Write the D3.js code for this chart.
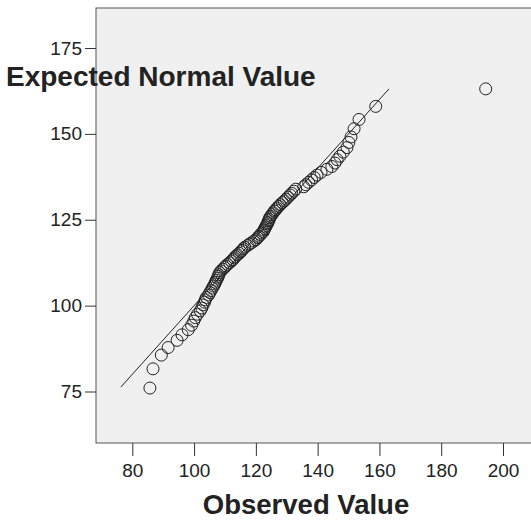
<!DOCTYPE html>
<html>
<head>
<meta charset="utf-8">
<script src="https://cdn.jsdelivr.net/npm/d3@7"></script>
<style>
  body { margin: 0; background: #fff; }
  svg { display: block; font-family: 'Liberation Sans', Arial, sans-serif; }
</style>
</head>
<body>
<div id="chart"></div>
<script>
// observed values (sorted) and their expected normal values
var observed = [85.7, 86.7, 89.4, 91.6, 94.5, 96.1, 98.1, 99.2, 99.9, 100.4,
  101.1, 102.0, 102.5, 102.9, 103.4, 103.6, 104.0, 104.7, 105.1, 105.5,
  105.9, 106.3, 106.7, 106.9, 107.2, 107.6, 107.8, 108.0, 108.3, 108.7,
  109.3, 109.8, 110.3, 110.8, 111.5, 112.1, 112.6, 113.0, 113.4, 114.0,
  114.6, 115.1, 115.5, 116.0, 116.4, 117.3, 117.9, 118.6, 119.4, 120.0,
  120.6, 121.0, 121.5, 121.9, 122.4, 122.6, 122.9, 123.1, 123.4, 123.7,
  123.9, 124.1, 124.3, 124.5, 124.8, 125.2, 125.6, 126.0, 126.4, 126.8,
  127.4, 127.9, 128.6, 129.2, 129.8, 130.4, 131.1, 131.6, 132.3, 132.9,
  135.5, 136.2, 137.1, 138.0, 138.9, 139.8, 141.1, 143.0, 144.6, 145.6,
  146.3, 147.2, 148.3, 149.5, 150.1, 150.8, 151.8, 153.4, 158.8, 194.4]
var expected = [76.0, 81.6, 85.6, 87.8, 89.9, 91.5, 93.0, 94.3, 95.5, 96.5,
  97.5, 98.5, 99.3, 100.2, 101.0, 101.7, 102.4, 103.1, 103.8, 104.4,
  105.1, 105.7, 106.3, 106.8, 107.4, 108.0, 108.5, 109.0, 109.6, 110.1,
  110.6, 111.1, 111.5, 112.0, 112.5, 113.0, 113.4, 113.9, 114.3, 114.8,
  115.2, 115.7, 116.1, 116.6, 117.0, 117.5, 117.9, 118.3, 118.8, 119.2,
  119.8, 120.2, 120.7, 121.1, 121.5, 122.0, 122.4, 122.9, 123.3, 123.8,
  124.2, 124.7, 125.1, 125.6, 126.0, 126.5, 127.0, 127.5, 127.9, 128.4,
  128.9, 129.4, 130.0, 130.5, 131.0, 131.6, 132.2, 132.7, 133.3, 133.9,
  134.6, 135.2, 135.9, 136.6, 137.3, 138.0, 138.8, 139.7, 140.5, 141.5,
  142.5, 143.5, 144.7, 146.0, 147.5, 149.1, 151.5, 154.2, 158.0, 163.1]
// reference line y = x over the expected range
var refLine = [76.3, 163.1]
var xTicks = [80, 100, 120, 140, 160, 180, 200]
var yTicks = [75, 100, 125, 150, 175]
var xTitle = 'Observed Value'
var yTitle = 'Expected Normal Value'

var W = 531
var H = 520
var plot = { left: 96, top: 8, right: 560, bottom: 443 }

var svg = d3.select('#chart')
  .append('svg')
  .attr('width', W)
  .attr('height', H)

var x = d3.scaleLinear().domain([80, 200]).range([132.3, 503])
var y = d3.scaleLinear().domain([75, 175]).range([391.5, 48])

// plot background
svg.append('rect')
  .attr('x', plot.left)
  .attr('y', plot.top)
  .attr('width', plot.right - plot.left)
  .attr('height', plot.bottom - plot.top)
  .style('fill', '#eff0ef')
  .style('stroke', '#555')
  .style('stroke-width', 1)

// axes
var xAxis = d3.axisBottom(x).tickValues(xTicks).tickSize(13).tickSizeOuter(0).tickPadding(8)
var yAxis = d3.axisLeft(y).tickValues(yTicks).tickSize(11).tickSizeOuter(0).tickPadding(3)

var gx = svg.append('g')
  .attr('transform', 'translate(0,' + plot.bottom + ')')
  .call(xAxis)
var gy = svg.append('g')
  .attr('transform', 'translate(' + plot.left + ',0)')
  .call(yAxis)

;[gx, gy].forEach(function (g) {
  g.select('.domain').remove()
  g.selectAll('line').style('stroke', '#333')
  g.selectAll('text')
    .style('font-size', '19px')
    .style('fill', '#222')
    .style('font-family', "'Liberation Sans', Arial, sans-serif")
})

// reference line
svg.append('line')
  .attr('x1', x(refLine[0]))
  .attr('y1', y(refLine[0]))
  .attr('x2', x(refLine[1]))
  .attr('y2', y(refLine[1]))
  .style('stroke', '#222')
  .style('stroke-width', 1)

// points
svg.selectAll('circle.pt')
  .data(observed)
  .enter()
  .append('circle')
  .attr('class', 'pt')
  .attr('cx', function (d) { return x(d) })
  .attr('cy', function (d, i) { return y(expected[i]) })
  .attr('r', 6)
  .style('fill', 'none')
  .style('stroke', '#222')
  .style('stroke-width', 1)

// titles
svg.append('text')
  .attr('x', 6)
  .attr('y', 86)
  .style('font-size', '28px')
  .style('font-weight', 'bold')
  .style('fill', '#222')
  .text(yTitle)

svg.append('text')
  .attr('x', 306)
  .attr('y', 514)
  .attr('text-anchor', 'middle')
  .style('font-size', '27.5px')
  .style('font-weight', 'bold')
  .style('fill', '#222')
  .text(xTitle)
</script>
</body>
</html>
